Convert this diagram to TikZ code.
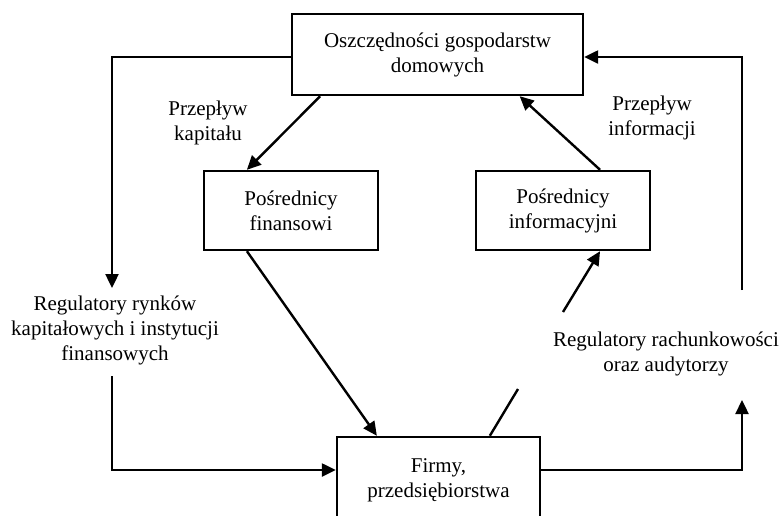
\documentclass[tikz,border=0pt]{standalone}
\usepackage{fontspec}
\setmainfont{Liberation Serif}
\usetikzlibrary{arrows.meta,calc}
\tikzset{
  box/.style={draw,line width=1.2pt,align=center,inner sep=0pt},
  lbl/.style={align=center,inner sep=0pt},
  flow/.style={line width=1.2pt,-{Triangle[length=7pt,width=6.5pt]}},
  plain/.style={line width=1.2pt}
}
\begin{document}
\begin{tikzpicture}[x=0.5pt,y=-0.5pt,font=\fontsize{10.5pt}{12.5pt}\selectfont]
    \useasboundingbox (0,0) rectangle (782,515);
    \node[box,minimum width=145.5pt,minimum height=40.5pt] (top) at (437.5,54.5)
      {Oszczędności gospodarstw\\domowych};
    \node[box,minimum width=87pt,minimum height=39.5pt] (fin) at (291,210.5)
      {Pośrednicy\\finansowi};
    \node[box,minimum width=87pt,minimum height=39.5pt] (info) at (563,210.5)
      {Pośrednicy\\informacyjni};
    \node[box,minimum width=101.5pt,minimum height=43pt] (firmy) at (438.5,480)
      {Firmy,\\przedsiębiorstwa};
    \node[lbl] (kap) at (208,123) {Przepływ\\kapitału};
    \node[lbl] (inf) at (652,118) {Przepływ\\informacji};
    \node[lbl] (reg) at (115,330) {Regulatory rynków\\kapitałowych i instytucji\\finansowych};
    \node[lbl] (rach) at (666,354) {Regulatory rachunkowości\\oraz audytorzy};
    \coordinate (regin) at (112,288);
    \coordinate (regout) at (112,376);
    \coordinate (rachin) at (742,400);
    \coordinate (rachout) at (742,290);
    \coordinate (gapa) at (518,389);
    \coordinate (gapb) at (563,312);
    \draw[flow] ($(top.south west)!0.1!(top.south east)$) -- ($(fin.north west)!0.25!(fin.north east)$);
    \draw[flow] ($(fin.south west)!0.25!(fin.south east)$) -- ($(firmy.north west)!0.2!(firmy.north east)$);
    \draw[flow] ($(info.north west)!0.71!(info.north east)$) -- ($(top.south west)!0.78!(top.south east)$);
    \draw[plain] ($(firmy.north west)!0.75!(firmy.north east)$) -- (gapa);
    \draw[flow] (gapb) -- ($(info.south west)!0.71!(info.south east)$);
    \draw[flow] ($(top.west)+(0,2.5)$) -| (regin);
    \draw[flow] (regout) |- ($(firmy.west)+(0,-10)$);
    \draw[flow] ($(firmy.east)+(0,-10)$) -| (rachin);
    \draw[flow] (rachout) |- ($(top.east)+(0,2.5)$);
\end{tikzpicture}
\end{document}
